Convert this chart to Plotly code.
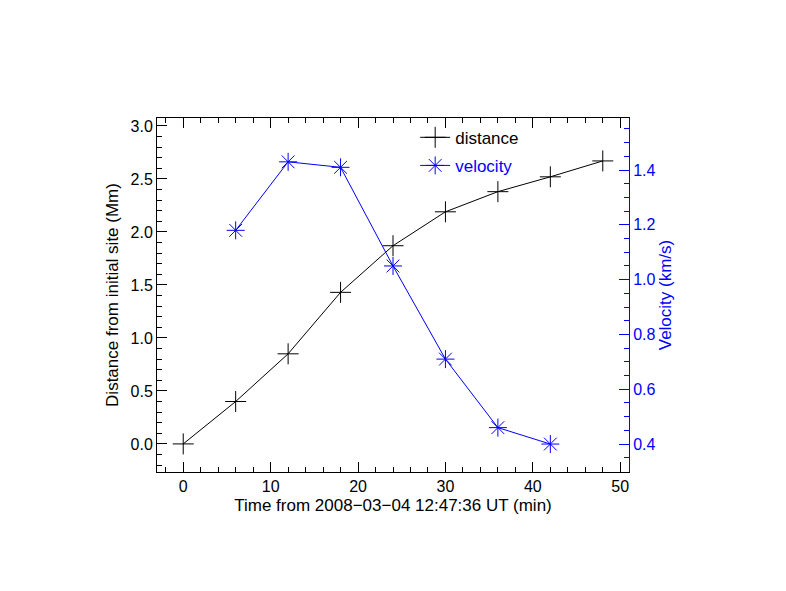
import plotly.graph_objects as go

# time (min) from 2008-03-04 12:47:36 UT
time_dist = [0, 6, 12, 18, 24, 30, 36, 42, 48]
distance = [0.0, 0.40, 0.85, 1.43, 1.87, 2.19, 2.38, 2.52, 2.67]

time_vel = [6, 12, 18, 24, 30, 36, 42]
velocity = [1.18, 1.43, 1.41, 1.05, 0.71, 0.46, 0.40]

x_ticks = [0, 10, 20, 30, 40, 50]
y1_ticks = [0.0, 0.5, 1.0, 1.5, 2.0, 2.5, 3.0]
y2_ticks = [0.4, 0.6, 0.8, 1.0, 1.2, 1.4]

FONT = "Liberation Sans, Arial, sans-serif"
BLUE = "#0000ff"

fig = go.Figure()
fig.add_trace(go.Scatter(
    x=time_dist, y=distance, name="distance", mode="lines+markers",
    legendgroup="d",
    line=dict(color="black", width=1),
    marker=dict(symbol="cross-thin", size=15, line=dict(color="black", width=1)),
))
fig.add_trace(go.Scatter(
    x=time_vel, y=velocity, mode="lines+markers", yaxis="y2",
    name="<span style='color:#0000ff'>velocity</span>",
    legendgroup="v",
    line=dict(color=BLUE, width=1),
    marker=dict(symbol="asterisk-open", size=15, line=dict(color=BLUE, width=1)),
))

# page body has an 8px margin, so shift the plot area by it
fig.update_layout(
    width=786, height=591,
    margin=dict(l=149, r=165, t=110, b=127),
    paper_bgcolor="white", plot_bgcolor="white",
    font=dict(family=FONT, size=14, color="black"),
    showlegend=True,
    legend=dict(x=0.547, y=0.995, xanchor="left", yanchor="top",
                bgcolor="rgba(0,0,0,0)", font=dict(size=17),
                tracegroupgap=3),
    xaxis=dict(
        range=[-3, 51], tickvals=x_ticks, showgrid=False, zeroline=False,
        showline=True, linecolor="black", linewidth=1, mirror="ticks",
        ticks="inside", ticklen=10, tickcolor="black",
        tickfont=dict(size=16),
        minor=dict(dtick=2, ticks="inside", ticklen=5, tickcolor="black"),
        title=dict(text="Time from 2008\u221203\u221204 12:47:36 UT (min)", standoff=4),
    ),
    yaxis=dict(
        range=[-0.265, 3.075], tickvals=y1_ticks, tickformat=".1f",
        showgrid=False, zeroline=False,
        showline=True, linecolor="black", linewidth=1,
        ticks="inside", ticklen=10, tickcolor="black",
        tickfont=dict(size=16),
        minor=dict(dtick=0.1, ticks="inside", ticklen=5, tickcolor="black"),
        title=dict(text="Distance from initial site (Mm)", standoff=7),
    ),
    yaxis2=dict(
        overlaying="y", side="right",
        range=[0.298, 1.59], tickvals=y2_ticks, tickformat=".1f",
        showgrid=False, zeroline=False,
        showline=True, linecolor=BLUE, linewidth=1,
        ticks="inside", ticklen=10, tickcolor=BLUE,
        tickfont=dict(color=BLUE, size=16),
        minor=dict(dtick=0.05, ticks="inside", ticklen=5, tickcolor=BLUE),
        title=dict(text="Velocity (km/s)", font=dict(color=BLUE), standoff=2),
    ),
)

fig.write_html("out.html")
